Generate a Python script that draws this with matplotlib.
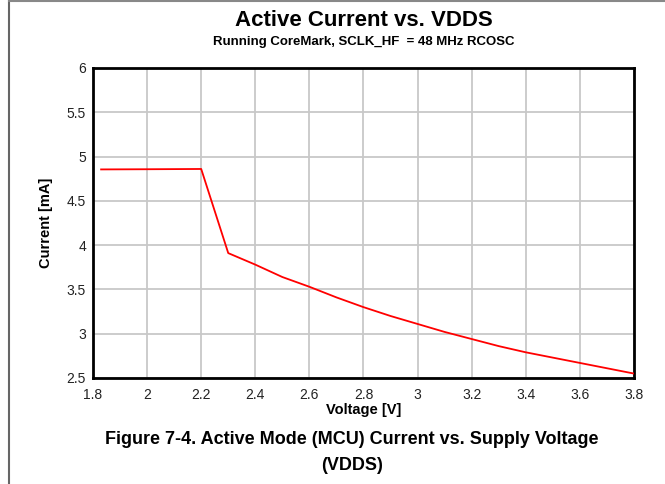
import matplotlib.pyplot as plt
from matplotlib.lines import Line2D

plt.rcParams["font.family"] = ["Liberation Sans", "DejaVu Sans"]

# Active current vs. supply voltage
voltage = [1.83, 2.0, 2.2, 2.3, 2.4, 2.5, 2.6, 2.7, 2.8, 2.9, 3.0, 3.1, 3.2, 3.3, 3.4, 3.5, 3.6, 3.7, 3.8]
current = [4.855, 4.857, 4.86, 3.91, 3.78, 3.64, 3.53, 3.41, 3.30, 3.20, 3.11, 3.02, 2.94, 2.86, 2.79, 2.73, 2.67, 2.61, 2.55]

x_ticks = [1.8, 2.0, 2.2, 2.4, 2.6, 2.8, 3.0, 3.2, 3.4, 3.6, 3.8]
x_labels = ["1.8", "2", "2.2", "2.4", "2.6", "2.8", "3", "3.2", "3.4", "3.6", "3.8"]
y_ticks = [2.5, 3.0, 3.5, 4.0, 4.5, 5.0, 5.5, 6.0]
y_labels = ["2.5", "3", "3.5", "4", "4.5", "5", "5.5", "6"]

W, H = 665, 484
fig = plt.figure(figsize=(W / 100, H / 100), dpi=100)
ax = fig.add_axes([93 / W, 1 - 378 / H, (634 - 93) / W, (378 - 68) / H])

ax.plot(voltage, current, color="#ff0000", linewidth=1.3, zorder=3)

ax.set_xlim(1.8, 3.8)
ax.set_ylim(2.5, 6.0)
ax.set_xticks(x_ticks)
ax.set_xticklabels(x_labels)
ax.set_yticks(y_ticks)
ax.set_yticklabels(y_labels)
ax.tick_params(length=0, labelsize=10, colors="#222222")
ax.tick_params(axis="x", pad=7)
ax.tick_params(axis="y", pad=5)
ax.grid(True, color="#c8c8c8", linewidth=1.3)
ax.set_axisbelow(True)
for s in ax.spines.values():
    s.set_linewidth(2)
    s.set_color("black")

ax.set_xlabel("Voltage [V]", fontsize=10.5, fontweight="bold", labelpad=1)
ax.set_ylabel("Current [mA]", fontsize=10.5, fontweight="bold", labelpad=10)

cx = (93 + 634) / 2 / W
fig.text(cx, 1 - 21 / H, "Active Current vs. VDDS", ha="center", va="center",
         fontsize=16, fontweight="bold")
fig.text(cx, 1 - 42 / H, "Running CoreMark, SCLK_HF  = 48 MHz RCOSC", ha="center",
         va="center", fontsize=9.5, fontweight="bold")

fig.text(352 / W, 1 - 440 / H, "Figure 7-4. Active Mode (MCU) Current vs. Supply Voltage",
         ha="center", va="center", fontsize=13, fontweight="bold")
fig.text(352 / W, 1 - 466 / H, "(VDDS)", ha="center", va="center",
         fontsize=13, fontweight="bold")

# page frame lines (left and top)
fig.add_artist(Line2D([8.5 / W, 8.5 / W], [0, 1], color="#666666", linewidth=1.5,
                      transform=fig.transFigure))
fig.add_artist(Line2D([8.5 / W, 1], [1 - 0.8 / H, 1 - 0.8 / H], color="#888888",
                      linewidth=1.5, transform=fig.transFigure))

fig.savefig("out.png", dpi=100)
